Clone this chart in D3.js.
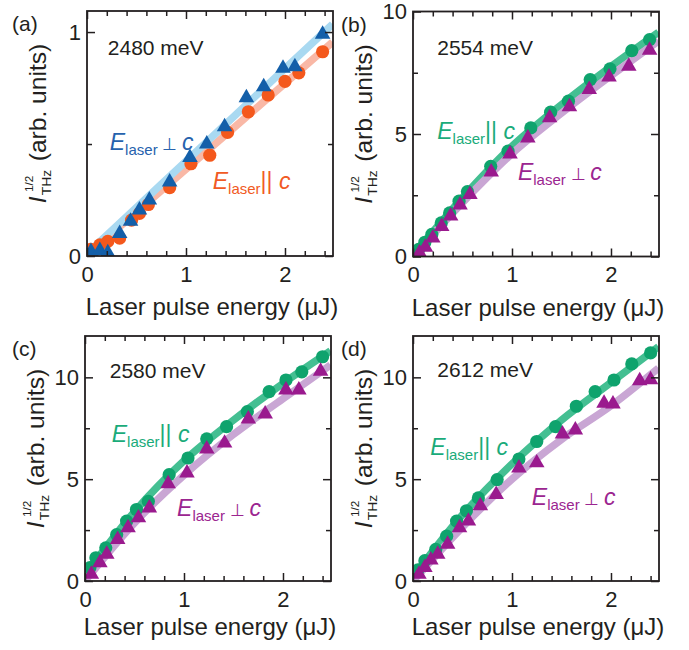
<!DOCTYPE html>
<html>
<head>
<meta charset="utf-8">
<script src="https://cdn.jsdelivr.net/npm/d3@7"></script>
<style>
body { margin: 0; background: #fff; }
text { font-family: "Liberation Sans", Arial, sans-serif; fill: #231f20; }
</style>
</head>
<body>
<script>
// ---- data ----
var xMax = 2.485;
var fitX = [0, 0.5, 1, 1.5, 2, 2.48];

// (a) 2480 meV
var aParX = [0.04, 0.13, 0.21, 0.33, 0.45, 0.53, 0.62, 0.835, 1.05, 1.24, 1.42, 1.63, 1.83, 2.0, 2.14, 2.38];
var aParY = [0.03, 0.05, 0.065, 0.08, 0.16, 0.19, 0.23, 0.305, 0.412, 0.45, 0.552, 0.644, 0.719, 0.78, 0.818, 0.912];
var aPerpX = [0.04, 0.13, 0.21, 0.33, 0.44, 0.53, 0.63, 0.835, 1.04, 1.21, 1.39, 1.61, 1.785, 1.98, 2.10, 2.38];
var aPerpY = [0.02, 0.025, 0.015, 0.10, 0.155, 0.205, 0.25, 0.33, 0.44, 0.50, 0.577, 0.707, 0.756, 0.838, 0.845, 0.99];
var aParFit = [0.005, 0.196, 0.388, 0.579, 0.771, 0.955];
var aPerpFit = [0.01, 0.217, 0.423, 0.630, 0.837, 1.035];

// (b) 2554 meV
var bParX = [0.057, 0.12, 0.19, 0.285, 0.37, 0.465, 0.55, 0.785, 0.96, 1.19, 1.39, 1.57, 1.79, 1.99, 2.21, 2.39];
var bParY = [0.29, 0.58, 0.90, 1.37, 1.78, 2.26, 2.65, 3.68, 4.30, 5.25, 5.89, 6.34, 7.22, 7.66, 8.40, 8.85];
var bPerpX = [0.065, 0.125, 0.2, 0.29, 0.38, 0.475, 0.575, 0.79, 0.98, 1.16, 1.38, 1.58, 1.78, 1.98, 2.18, 2.39];
var bPerpY = [0.15, 0.38, 0.76, 1.22, 1.65, 2.10, 2.53, 3.45, 4.18, 4.84, 5.66, 6.11, 6.82, 7.33, 7.77, 8.42];
var bParFit = [0.05, 2.4, 4.5, 6.2, 7.75, 9.15];
var bPerpFit = [0, 2.2, 4.2, 5.85, 7.38, 8.8];

// (c) 2580 meV
var cParX = [0.05, 0.11, 0.21, 0.32, 0.42, 0.52, 0.64, 0.85, 1.04, 1.23, 1.43, 1.64, 1.86, 2.03, 2.19, 2.40];
var cParY = [0.66, 1.14, 1.63, 2.28, 2.94, 3.51, 3.91, 5.22, 6.04, 6.98, 7.58, 8.32, 9.30, 9.87, 10.27, 11.01];
var cPerpX = [0.064, 0.15, 0.22, 0.33, 0.435, 0.54, 0.65, 0.84, 1.03, 1.23, 1.41, 1.65, 1.82, 2.03, 2.16, 2.38];
var cPerpY = [0.33, 0.90, 1.31, 2.04, 2.61, 3.10, 3.59, 4.78, 5.30, 6.48, 6.77, 7.95, 8.2, 9.38, 9.38, 10.3];
var cParFit = [0.3, 3.4, 5.9, 7.9, 9.7, 11.3];
var cPerpFit = [0, 2.85, 5.2, 7.2, 8.95, 10.6];

// (d) 2612 meV
var dParX = [0.05, 0.12, 0.23, 0.34, 0.44, 0.54, 0.66, 0.85, 1.07, 1.25, 1.44, 1.65, 1.84, 2.03, 2.21, 2.40];
var dParY = [0.55, 1.0, 1.55, 2.2, 2.94, 3.45, 4.08, 4.98, 5.99, 6.85, 7.58, 8.58, 9.30, 9.87, 10.66, 11.2];
var dPerpX = [0.06, 0.12, 0.18, 0.25, 0.35, 0.47, 0.56, 0.68, 0.84, 1.07, 1.25, 1.51, 1.64, 1.93, 2.02, 2.29, 2.40];
var dPerpY = [0.33, 0.66, 1.03, 1.31, 1.80, 2.61, 2.94, 3.70, 4.25, 5.55, 5.80, 7.22, 7.42, 8.73, 8.69, 9.83, 9.88];
var dParFit = [0.2, 3.25, 5.75, 7.9, 9.75, 11.5];
var dPerpFit = [0, 2.65, 5.0, 6.95, 8.6, 10.45];

var xMajor = [0, 1, 2];
var xMinor = d3.range(0.2, 2.45, 0.2).filter(function (v) { return Math.abs(v - 1) > 0.01 && Math.abs(v - 2) > 0.01; });

var W = 689, H = 650;
var pw = 246, ph = 245;

var svg = d3.select("body").append("svg").attr("width", W).attr("height", H);

var orange = "#f4581c", orangeLine = "#f9b8a6", orangeText = "#f15a24";
var blue = "#135fa9", blueLine = "#a9d9f1", blueText = "#2662ad";
var green = "#0fa36d", greenLine = "#44bf92", greenText = "#1aab7a";
var purple = "#9a1a8e", purpleLine = "#c9a6d4", purpleText = "#9b2590";

var panels = [
    {id: "a", left: 87, top: 11, yMax: 1.094, yMajor: [0, 1], yMinor: [0.5], energy: "2480 meV",
     par: [aParX, aParY, aParFit, orange, orangeLine], perp: [aPerpX, aPerpY, aPerpFit, blue, blueLine],
     parLab: [1.27, 0.30, orangeText], perpLab: [0.23, 0.473, blueText], energyPos: [0.21, 0.897], titleDy: 59},
    {id: "b", left: 413, top: 11.5, yMax: 10, yMajor: [0, 5, 10], yMinor: [2.5, 7.5], energy: "2554 meV",
     par: [bParX, bParY, bParFit, green, greenLine], perp: [bPerpX, bPerpY, bPerpFit, purple, purpleLine],
     parLab: [0.245, 4.78, greenText], perpLab: [1.06, 3.14, purpleText], energyPos: [0.245, 8.24], titleDy: 59},
    {id: "c", left: 85, top: 336, yMax: 12.03, yMajor: [0, 5, 10], yMinor: [2.5, 7.5], energy: "2580 meV",
     par: [cParX, cParY, cParFit, green, greenLine], perp: [cPerpX, cPerpY, cPerpFit, purple, purpleLine],
     parLab: [0.27, 6.83, greenText], perpLab: [0.93, 3.17, purpleText], energyPos: [0.25, 9.97], titleDy: 54},
    {id: "d", left: 413, top: 336, yMax: 12.03, yMajor: [0, 5, 10], yMinor: [2.5, 7.5], energy: "2612 meV",
     par: [dParX, dParY, dParFit, green, greenLine], perp: [dPerpX, dPerpY, dPerpFit, purple, purpleLine],
     parLab: [0.175, 6.2, greenText], perpLab: [1.2, 3.75, purpleText], energyPos: [0.245, 10.0], titleDy: 54}
];

panels.forEach(function (p) {
    var g = svg.append("g").attr("transform", "translate(" + p.left + "," + p.top + ")");
    var x = d3.scaleLinear().domain([0, xMax]).range([0, pw]);
    var y = d3.scaleLinear().domain([0, p.yMax]).range([ph, 0]);

    g.append("clipPath").attr("id", "clip-" + p.id)
        .append("rect").attr("width", pw).attr("height", ph);

    var plot = g.append("g").attr("clip-path", "url(#clip-" + p.id + ")");

    // fit curves first
    [p.par, p.perp].forEach(function (s) {
        var pts = fitX.map(function (v, i) { return [v, s[2][i]]; });
        plot.append("path")
            .datum(pts)
            .attr("fill", "none")
            .attr("stroke", s[4])
            .attr("stroke-width", 7.5)
            .attr("d", d3.line().curve(d3.curveMonotoneX)
                .x(function (d) { return x(d[0]); })
                .y(function (d) { return y(d[1]); }));
    });

    // circles (E || c)
    plot.selectAll("circle.par")
        .data(p.par[0])
        .enter().append("circle")
        .attr("class", "par")
        .attr("cx", function (d) { return x(d); })
        .attr("cy", function (d, i) { return y(p.par[1][i]); })
        .attr("r", 6.6)
        .attr("fill", p.par[3]);

    // triangles (E perp c)
    var tri = d3.symbol().type(d3.symbolTriangle).size(105);
    plot.selectAll("path.perp")
        .data(p.perp[0])
        .enter().append("path")
        .attr("class", "perp")
        .attr("d", tri)
        .attr("transform", function (d, i) { return "translate(" + x(d) + "," + y(p.perp[1][i]) + ")"; })
        .attr("fill", p.perp[3]);

    // ticks, inward on all four sides
    var fontTick = 22;
    g.append("g").attr("transform", "translate(0," + ph + ")")
        .call(d3.axisBottom(x).tickValues(xMinor).tickSize(-5).tickFormat(""));
    g.append("g").attr("transform", "translate(0," + ph + ")")
        .call(d3.axisBottom(x).tickValues(xMajor).tickSize(-8).tickPadding(10).tickFormat(d3.format("d")))
        .attr("class", "lab");
    g.append("g").call(d3.axisTop(x).tickValues(xMinor).tickSize(-5).tickFormat(""));
    g.append("g").call(d3.axisTop(x).tickValues(xMajor).tickSize(-8).tickFormat(""));
    g.append("g").call(d3.axisLeft(y).tickValues(p.yMinor).tickSize(-5).tickFormat(""));
    g.append("g").call(d3.axisLeft(y).tickValues(p.yMajor).tickSize(-8).tickPadding(6).tickFormat(d3.format("d")))
        .attr("class", "lab");
    g.append("g").attr("transform", "translate(" + pw + ",0)")
        .call(d3.axisRight(y).tickValues(p.yMinor).tickSize(-5).tickFormat(""));
    g.append("g").attr("transform", "translate(" + pw + ",0)")
        .call(d3.axisRight(y).tickValues(p.yMajor).tickSize(-8).tickFormat(""));

    g.selectAll(".domain").remove();
    g.selectAll(".tick line").attr("stroke", "#231f20").attr("stroke-width", 1.5);
    g.selectAll(".lab text").attr("font-size", fontTick)
        .attr("font-family", "Liberation Sans, Arial, sans-serif").attr("fill", "#231f20");

    // frame
    g.append("rect").attr("width", pw).attr("height", ph)
        .attr("fill", "none").attr("stroke", "#231f20").attr("stroke-width", 1.8);

    // energy label
    g.append("text").attr("x", x(p.energyPos[0])).attr("y", y(p.energyPos[1]))
        .attr("font-size", 21).text(p.energy);

    // polarisation labels
    function polLabel(pos, sym) {
        var t = g.append("text").attr("x", x(pos[0])).attr("y", y(pos[1]))
            .style("fill", pos[2]).attr("font-size", 23);
        t.append("tspan").attr("font-style", "italic").style("fill", pos[2]).text("E");
        t.append("tspan").attr("font-size", 15).attr("dy", 5).style("fill", pos[2]).text("laser");
        t.append("tspan").attr("dy", -5).attr("font-size", sym === "⊥" ? 17 : 23).style("fill", pos[2])
            .text(sym === "⊥" ? " ⊥ " : "|| ");
        t.append("tspan").attr("font-style", "italic").attr("font-size", 23).style("fill", pos[2]).text("c");
    }
    polLabel(p.parLab, "||");
    polLabel(p.perpLab, "⊥");

    // x title
    g.append("text").attr("x", pw / 2 + 2).attr("y", ph + p.titleDy)
        .attr("text-anchor", "middle").attr("font-size", 24)
        .text("Laser pulse energy (μJ)");

    // y title (rotated), with stacked sub/superscript, stretched a little along its length
    var yt = g.append("g").attr("transform", "translate(-41," + (ph / 2 - 10) + ") rotate(-90) scale(1.07,1)");
    var inner = yt.append("g");
    var tI = inner.append("text").attr("font-size", 23).attr("font-style", "italic").text("I");
    var wI = tI.node().getComputedTextLength();
    var tSub = inner.append("text").attr("x", wI + 1).attr("y", 5).attr("font-size", 13).text("THz");
    var tSup = inner.append("text").attr("x", wI + 4).attr("y", -13).attr("font-size", 11).text("1/2");
    var wS = Math.max(tSub.node().getComputedTextLength(), tSup.node().getComputedTextLength() + 3);
    var tRest = inner.append("text").attr("x", wI + 1 + wS + 8).attr("font-size", 23).text("(arb. units)");
    var total = wI + 1 + wS + 8 + tRest.node().getComputedTextLength();
    inner.attr("transform", "translate(" + (-total / 2) + ",0)");

    // panel letter
    g.append("text").attr("x", -p.left + (p.left < 200 ? 12 : 341)).attr("y", 20)
        .attr("font-size", 21).text("(" + p.id + ")");
});
</script>
</body>
</html>
